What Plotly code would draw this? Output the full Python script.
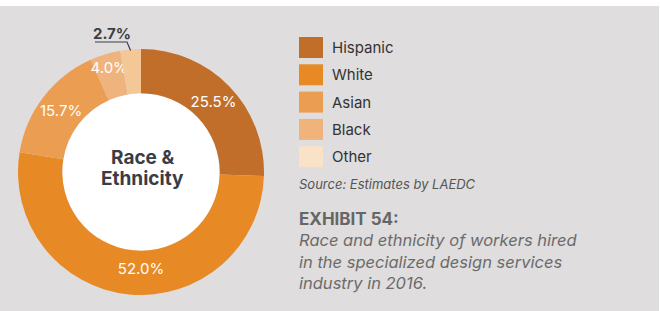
import numpy as np
import plotly.graph_objects as go

categories = ["Hispanic", "White", "Asian", "Black", "Other"]
values = [25.5, 52.0, 15.7, 4.0, 2.7]
pie_colors = ["#c06e29", "#e78a26", "#eb9d52", "#efb47e", "#f4c797"]
legend_colors = ["#c06e29", "#e78a26", "#eb9d52", "#f0b37b", "#f9e2c7"]

W, H = 660, 311
BG = "#dfdddd"
FONT = "Inter"

# pie geometry (pixels)
cx, cy, R = 141.0, 172.0, 123.0
hole = 0.64

fig = go.Figure()
fig.add_trace(go.Pie(
    labels=categories, values=values, sort=False, direction="clockwise",
    rotation=0, hole=hole,
    marker=dict(colors=pie_colors, line=dict(width=0)),
    texttemplate=[f"{v:.1f}%" for v in values],
    textposition=["inside", "inside", "inside", "inside", "none"],
    insidetextorientation="horizontal",
    textfont=dict(family=FONT, size=15, color="white"),
    domain=dict(x=[(cx - R) / W, (cx + R) / W],
                y=[(H - cy - R) / H, (H - cy + R) / H]),
    showlegend=False, hoverinfo="label+percent",
))

def px(x):
    return x / W

def py(y):
    return 1 - y / H

shapes = []
annotations = []

# white strip on top / right edge
shapes.append(dict(type="rect", xref="paper", yref="paper", x0=0, x1=1,
                   y0=py(6), y1=1.01, fillcolor="white", line=dict(width=0), layer="below"))
shapes.append(dict(type="rect", xref="paper", yref="paper", x0=px(659), x1=1.01,
                   y0=0, y1=1, fillcolor="white", line=dict(width=0), layer="below"))
# white centre of the donut
r_in = R * hole
shapes.append(dict(type="circle", xref="paper", yref="paper",
                   x0=px(cx - r_in), x1=px(cx + r_in), y0=py(cy + r_in), y1=py(cy - r_in),
                   fillcolor="white", line=dict(width=0), layer="below"))

# outside label for the last slice ("Other")
vals = np.array(values)
cum = np.cumsum(vals) / vals.sum()
mid = cum[-1] - vals[-1] / vals.sum() / 2
ang = np.deg2rad(90 - 360 * mid)
ex, ey = cx + R * np.cos(ang), cy - R * np.sin(ang)
lx1, ly = 127.0, 42.0
lx0 = 95.0
shapes.append(dict(type="path", xref="paper", yref="paper",
                   path=f"M {px(lx0)},{py(ly)} L {px(lx1)},{py(ly)} L {px(ex)},{py(ey + 1)}",
                   line=dict(color="#3d3d45", width=1.2)))
annotations.append(dict(x=px((lx0 + lx1) / 2 + 1), y=py(33), xref="paper", yref="paper",
                        xanchor="center", yanchor="middle",
                        text=f"<b>{values[-1]:.1f}%</b>", showarrow=False,
                        font=dict(family=FONT, size=15, color="#3d3d45")))

# center title (two lines)
for txt, yy in [("Race &amp;", 157.5), ("Ethnicity", 178.5)]:
    annotations.append(dict(x=px(cx + 1), y=py(yy), xref="paper", yref="paper",
                            xanchor="center", yanchor="middle",
                            text=f"<b>{txt}</b>", showarrow=False,
                            font=dict(family=FONT, size=19, color="#3a3c45")))

# legend
ly0 = 47.5
step = 27.3
for i, (name, col) in enumerate(zip(categories, legend_colors)):
    yc = ly0 + i * step
    shapes.append(dict(type="rect", xref="paper", yref="paper",
                       x0=px(299), x1=px(323), y0=py(yc + 10.5), y1=py(yc - 10.5),
                       fillcolor=col, line=dict(width=0)))
    annotations.append(dict(x=px(330), y=py(yc), xref="paper", yref="paper",
                            xanchor="left", yanchor="middle", text=name, showarrow=False,
                            font=dict(family=FONT, size=15, color="#333333")))

annotations.append(dict(x=px(297), y=py(184), xref="paper", yref="paper",
                        xanchor="left", yanchor="middle",
                        text="<i>Source: Estimates by LAEDC</i>", showarrow=False,
                        font=dict(family=FONT, size=13, color="#555555")))

annotations.append(dict(x=px(297), y=py(219), xref="paper", yref="paper",
                        xanchor="left", yanchor="middle",
                        text="<b>EXHIBIT 54:</b>", showarrow=False,
                        font=dict(family=FONT, size=17, color="#666666")))

desc = ["Race and ethnicity of workers hired",
        "in the specialized design services",
        "industry in 2016."]
for i, line in enumerate(desc):
    annotations.append(dict(x=px(297), y=py(240 + i * 21.5), xref="paper", yref="paper",
                            xanchor="left", yanchor="middle",
                            text=f"<i>{line}</i>", showarrow=False,
                            font=dict(family=FONT, size=16.5, color="#6b6b6b")))

fig.update_layout(
    width=W, height=H,
    margin=dict(l=0, r=0, t=0, b=0),
    paper_bgcolor=BG, plot_bgcolor=BG,
    shapes=shapes, annotations=annotations,
    font=dict(family=FONT),
    uniformtext=dict(minsize=15, mode="show"),
)

fig.write_html("out.html", config={"displayModeBar": False},
               post_script="document.body.style.margin='0';document.body.style.padding='0';")
